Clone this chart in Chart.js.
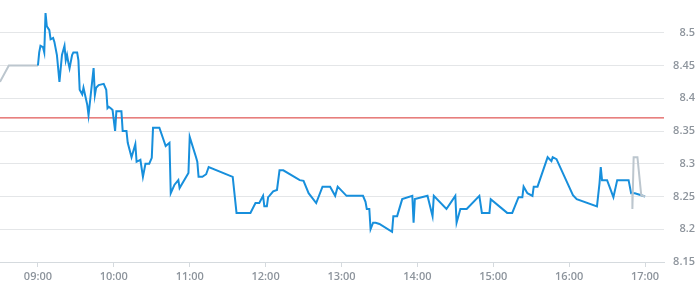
<!DOCTYPE html>
<html>
<head>
<meta charset="utf-8">
<script src="https://cdn.jsdelivr.net/npm/chart.js@4/dist/chart.umd.min.js"></script>
<style>
  html, body { margin: 0; padding: 0; background: #fff; }
  #wrap { width: 695px; height: 300px; }
</style>
</head>
<body>
<div id="wrap"><canvas id="chart"></canvas></div>
<script>
// pre-market (grey)
const preTimes  = ['08:30', '08:37', '09:00'];
const prePrices = [8.425, 8.45, 8.45];

// regular session (blue)
const sessionTimes = [
  '09:00','09:01','09:02','09:04','09:05','09:06','09:07','09:08','09:09','09:10',
  '09:12','09:13','09:15','09:17','09:19','09:21','09:22','09:23','09:24','09:25',
  '09:27','09:28','09:31','09:32','09:33','09:35','09:36','09:39','09:40','09:44',
  '09:45','09:46','09:48','09:52','09:54','09:55','09:56','09:58','09:59','10:01',
  '10:02','10:06','10:07','10:10','10:11','10:14','10:17','10:18','10:21','10:23',
  '10:25','10:28','10:30','10:31','10:36','10:41','10:44','10:45','10:48','10:51',
  '10:52','10:59','11:00','11:05','11:06','11:07','11:10','11:13','11:15','11:34',
  '11:37','11:48','11:52','11:55','11:58','11:59','12:01','12:02','12:03','12:06',
  '12:09','12:11','12:14','12:27','12:30','12:34','12:40','12:45','12:51','12:55',
  '12:57','13:04','13:17','13:19','13:20','13:22','13:23','13:25','13:27','13:30',
  '13:40','13:41','13:44','13:48','13:56','13:57','13:58','14:08','14:12','14:13',
  '14:23','14:30','14:31','14:34','14:39','14:49','14:51','14:57','14:58','15:11',
  '15:15','15:20','15:23','15:24','15:27','15:31','15:32','15:35','15:43','15:46',
  '15:47','15:50','16:03','16:06','16:22','16:24','16:25','16:26','16:30','16:35',
  '16:38','16:47','16:49','16:52','16:57','17:00'
];
const sessionPrices = [
  8.45, 8.47, 8.48, 8.478, 8.47, 8.53, 8.51, 8.507, 8.504, 8.49,
  8.492, 8.486, 8.466, 8.425, 8.466, 8.48, 8.458, 8.466, 8.455, 8.446,
  8.466, 8.47, 8.47, 8.458, 8.413, 8.406, 8.416, 8.39, 8.374, 8.446,
  8.405, 8.416, 8.42, 8.422, 8.413, 8.385, 8.387, 8.384, 8.382, 8.35,
  8.38, 8.38, 8.35, 8.35, 8.332, 8.31, 8.33, 8.303, 8.306, 8.28,
  8.30, 8.30, 8.309, 8.355, 8.355, 8.327, 8.332, 8.255, 8.268, 8.275,
  8.263, 8.286, 8.341, 8.31, 8.303, 8.28, 8.28, 8.284, 8.295, 8.28,
  8.225, 8.225, 8.24, 8.24, 8.251, 8.235, 8.235, 8.249, 8.251, 8.258,
  8.26, 8.29, 8.29, 8.275, 8.274, 8.255, 8.24, 8.265, 8.265, 8.251,
  8.265, 8.251, 8.251, 8.242, 8.231, 8.231, 8.20, 8.21, 8.21, 8.208,
  8.196, 8.22, 8.22, 8.246, 8.251, 8.21, 8.246, 8.251, 8.22, 8.251,
  8.231, 8.251, 8.21, 8.231, 8.231, 8.251, 8.225, 8.225, 8.246, 8.225,
  8.225, 8.249, 8.249, 8.265, 8.255, 8.251, 8.265, 8.265, 8.31, 8.304,
  8.31, 8.307, 8.252, 8.246, 8.235, 8.27, 8.295, 8.275, 8.275, 8.249,
  8.275, 8.275, 8.255, 8.255, 8.252, 8.25
];

// after-hours (grey)
const postTimes  = ['16:50', '16:50', '16:51', '16:54', '16:57', '17:00'];
const postPrices = [8.255, 8.231, 8.31, 8.31, 8.252, 8.25];

const prevClose = 8.37;

const xTickLabels = ['09:00','10:00','11:00','12:00','13:00','14:00','15:00','16:00','17:00'];
const yTicks = [8.15, 8.2, 8.25, 8.3, 8.35, 8.4, 8.45, 8.5];

const xMin = '08:30', xMax = '17:15';
const yMin = 8.15, yMax = 8.55;

function toMin(s) {
  const p = s.split(':');
  return +p[0] * 60 + +p[1];
}
function toLabel(m) {
  const h = Math.floor(m / 60), mm = m % 60;
  return String(h).padStart(2, '0') + ':' + String(mm).padStart(2, '0');
}
function pts(times, vals) {
  return times.map((t, i) => ({x: toMin(t), y: vals[i]}));
}

const lineBase = {pointRadius: 0, pointHoverRadius: 0, tension: 0, fill: false};

new Chart(document.getElementById('chart'), {
  type: 'line',
  data: {
    datasets: [
      Object.assign({data: pts(postTimes, postPrices), borderColor: '#bcc6ce', borderWidth: 2, order: 0}, lineBase),
      Object.assign({data: pts(sessionTimes, sessionPrices), borderColor: '#178fdc', borderWidth: 2, order: 1}, lineBase),
      Object.assign({data: pts(preTimes, prePrices), borderColor: '#bcc6ce', borderWidth: 2, order: 2}, lineBase),
      Object.assign({data: [{x: toMin(xMin), y: prevClose}, {x: toMin(xMax), y: prevClose}],
        borderColor: '#d9302e', borderWidth: 1, order: 3}, lineBase)
    ]
  },
  options: {
    responsive: true,
    maintainAspectRatio: false,
    animation: false,
    layout: {padding: 0},
    plugins: {legend: {display: false}, tooltip: {enabled: false}},
    scales: {
      x: {
        type: 'linear',
        min: toMin(xMin),
        max: toMin(xMax),
        afterBuildTicks: (scale) => { scale.ticks = xTickLabels.map(l => ({value: toMin(l)})); },
        afterFit: (scale) => {
          scale.height = 38;
          scale.paddingLeft = 0;
          scale.paddingRight = 0;
        },
        grid: {drawOnChartArea: false, drawTicks: true, tickLength: 5, color: '#d5dade'},
        border: {display: true, color: '#d5dade'},
        ticks: {
          padding: 3,
          maxRotation: 0,
          autoSkip: false,
          color: '#8d949c',
          font: {family: 'Open Sans', size: 11, weight: '600'},
          callback: (v) => toLabel(v)
        }
      },
      y: {
        position: 'right',
        min: yMin,
        max: yMax,
        afterBuildTicks: (scale) => { scale.ticks = yTicks.map(v => ({value: v})); },
        afterFit: (scale) => {
          scale.width = 31;
          scale.paddingTop = 0;
          scale.paddingBottom = 0;
        },
        grid: {drawTicks: false, color: '#e4e6e8'},
        border: {display: false},
        ticks: {
          padding: 2,
          crossAlign: 'far',
          color: '#8d949c',
          font: {family: 'Open Sans', size: 11, weight: '600'},
          callback: (v) => String(v)
        }
      }
    }
  }
});
</script>
</body>
</html>
